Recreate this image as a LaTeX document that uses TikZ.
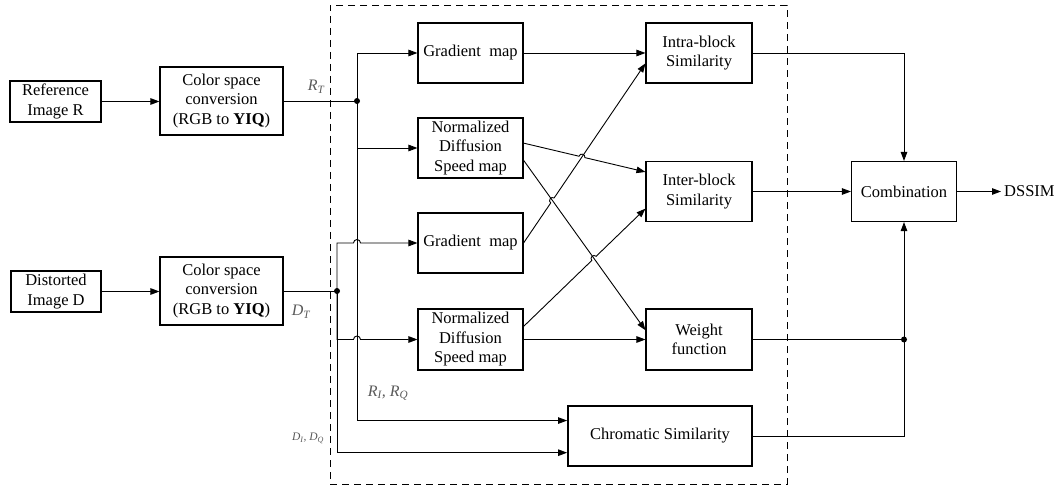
\documentclass[tikz,border=0pt]{standalone}
\usepackage{fontspec}
\setmainfont{Liberation Serif}
\usetikzlibrary{arrows.meta,calc,intersections}
\begin{document}
\begin{tikzpicture}[x=1pt,y=-1pt,
  box/.style={draw,line width=1.1pt,align=center,inner sep=0pt,font=\fontsize{16.5}{19.5}\selectfont},
  con/.style={line width=0.9pt,-{Triangle[length=9pt,width=6.5pt]}},
  ln/.style={line width=0.9pt},
  dot/.style={circle,fill,inner sep=0pt,minimum size=6pt},
  lbl/.style={text=black!65,font=\fontsize{16}{18}\selectfont\itshape,inner sep=0pt},
  hop/.style={bend left=90,looseness=1.6}]
\useasboundingbox (0,0) rectangle (1057,489);

% frame
\node[draw,dash pattern=on 7pt off 5pt,line width=0.9pt,minimum width=457pt,minimum height=479pt,inner sep=0pt] (frame) at (558.5,244.5) {};

% left boxes
\node[box,minimum width=91pt,minimum height=41pt] (refR) at (55.5,101.5) {Reference\\Image R};
\node[box,minimum width=123pt,minimum height=68pt] (ccR) at (221.5,101) {Color space\\conversion\\(RGB to \textbf{YIQ})};
\node[box,minimum width=90pt,minimum height=41pt] (distD) at (56,291.5) {Distorted\\Image D};
\node[box,minimum width=123pt,minimum height=68pt] (ccD) at (221.5,291) {Color space\\conversion\\(RGB to \textbf{YIQ})};

% middle boxes
\node[box,minimum width=105pt,minimum height=60pt] (gm1) at (470.5,53) {Gradient~ map};
\node[box,minimum width=105pt,minimum height=60pt] (nd1) at (470.5,148) {Normalized\\Diffusion\\Speed map};
\node[box,minimum width=105pt,minimum height=60pt] (gm2) at (470.5,243) {Gradient~ map};
\node[box,minimum width=105pt,minimum height=61pt] (nd2) at (470.5,339.5) {Normalized\\Diffusion\\Speed map};

\node[box,minimum width=106pt,minimum height=60pt] (intra) at (699,53) {Intra-block\\Similarity};
\node[box,minimum width=106pt,minimum height=60pt] (inter) at (699,191.5) {Inter-block\\Similarity};
\node[box,minimum width=106pt,minimum height=61pt] (weight) at (699,339.5) {Weight\\function};
\node[box,line width=1.8pt,minimum width=184pt,minimum height=60pt] (chrom) at (660,436) {Chromatic Similarity};

\node[box,minimum width=105pt,minimum height=60pt] (comb) at (904,191.5) {Combination};
\node[anchor=west,inner sep=3pt,font=\fontsize{16.5}{19.5}\selectfont] (dssim) at (1001,191.5) {DSSIM};

% dots
\node[dot] (rdot) at (357,101) {};
\node[dot] (ddot) at (337,291) {};
\node[dot] (wdot) at (comb.south |- weight.east) {};

% labels
\node[lbl] (lRT) at (316,87) {R\textsubscript{T}};
\node[lbl] (lDT) at (301,312) {D\textsubscript{T}};
\node[lbl] (lRIQ) at (388,393) {R\textsubscript{I}, R\textsubscript{Q}};
\node[lbl,font=\fontsize{11.5}{13}\selectfont\itshape] (lDIQ) at (308,438) {D\textsubscript{I}, D\textsubscript{Q}};

% left connectors
\draw[con] (refR.east) -- (refR.east -| ccR.west);
\draw[con] (distD.east) -- (distD.east -| ccD.west);
\draw[ln] (ccR.east) -- (rdot.center);
\draw[ln] (ccD.east) -- (ddot.center);

\coordinate (chA) at ($(chrom.north west)!0.25!(chrom.south west)$);
\coordinate (chB) at ($(chrom.north west)!0.77!(chrom.south west)$);

\draw[con] (rdot.center) |- (gm1.west);
\draw[con] (rdot.center) |- (nd1.west);
\draw[con] (rdot.center) |- (chA);
\draw[con] (ddot.center) |- (chB);
\draw[con] (ddot.center) |- ([xshift=-3.5pt]rdot.center |- gm2.west) arc[start angle=180,end angle=0,radius=3.5pt] -- (gm2.west);
\draw[con] (ddot.center) |- ([xshift=-3.5pt]rdot.center |- nd2.west) arc[start angle=180,end angle=0,radius=3.5pt] -- (nd2.west);

% diagonal connectors
\coordinate (n1a) at ($(nd1.north east)!0.42!(nd1.south east)$);
\coordinate (n1b) at ($(nd1.north east)!0.70!(nd1.south east)$);
\coordinate (n2a) at ($(nd2.north east)!0.29!(nd2.south east)$);
\coordinate (iaB) at ($(intra.north west)!0.67!(intra.south west)$);
\coordinate (ieA) at ($(inter.north west)!0.18!(inter.south west)$);
\coordinate (ieB) at ($(inter.north west)!0.78!(inter.south west)$);
\coordinate (wA) at ($(weight.north west)!0.35!(weight.south west)$);

\draw[con] (gm1.east) -- (intra.west);
\draw[con,name path=n1w] (n1b) -- (wA);
\path[name path=g2i] (gm2.east) -- (iaB);
\path[name path=n1i] (n1a) -- (ieA);
\path[name path=n2i] (n2a) -- (ieB);
\path[name intersections={of=n1w and g2i,by=x1}];
\path[name intersections={of=n1i and g2i,by=x2}];
\path[name intersections={of=n1w and n2i,by=x3}];
\draw[con] (gm2.east) -- ($(x1)!3pt!(gm2.east)$) to[hop] ($(x1)!3pt!(iaB)$) -- (iaB);
\draw[con] (n1a) -- ($(x2)!3pt!(n1a)$) to[hop] ($(x2)!3pt!(ieA)$) -- (ieA);
\draw[con] (n2a) -- ($(x3)!3pt!(n2a)$) to[hop] ($(x3)!3pt!(ieB)$) -- (ieB);
\draw[con] (nd2.east) -- (weight.west);

% right connectors
\draw[ln] (weight.east) -- (wdot.center);
\draw[ln] (chrom.east) -| (wdot.center);
\draw[con] (wdot.center) -- (comb.south);
\draw[con] (intra.east) -| (comb.north);
\draw[con] (inter.east) -- (comb.west);
\draw[con] (comb.east) -- (dssim.west);
\end{tikzpicture}
\end{document}
